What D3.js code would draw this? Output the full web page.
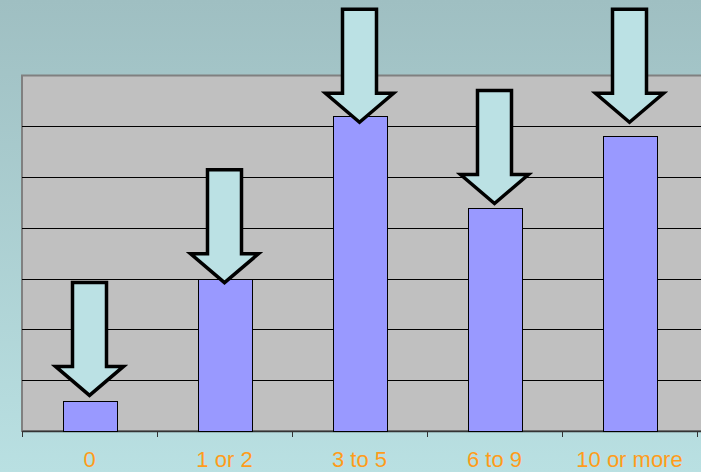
<!DOCTYPE html>
<html>
<head>
<meta charset="utf-8">
<script src="https://cdn.jsdelivr.net/npm/d3@7"></script>
<style>
  html, body { margin: 0; padding: 0; overflow: hidden; }
  svg { display: block; }
</style>
</head>
<body>
<svg width="701" height="472"></svg>
<script>
const categories = ['0', '1 or 2', '3 to 5', '6 to 9', '10 or more'];
const values = [3, 15, 31, 22, 29];
// where each arrow points (in value units)
const arrowTips = [3.5, 14.6, 30.4, 22.4, 30.4];
const gridTicks = [5, 10, 15, 20, 25, 30];

const svg = d3.select('svg');
const W = 701, H = 472;
const margin = { top: 75.5, right: 4, bottom: 41, left: 22 };

const defs = svg.append('defs');
const grad = defs.append('linearGradient')
    .attr('id', 'bg')
    .attr('x1', 0).attr('y1', 0).attr('x2', 0).attr('y2', 1);
grad.append('stop').attr('offset', '0%').attr('stop-color', '#9fbfc2');
grad.append('stop').attr('offset', '100%').attr('stop-color', '#b9e0e2');

svg.append('rect')
    .attr('width', W).attr('height', H)
    .attr('fill', 'url(#bg)');

const x = d3.scaleBand()
    .domain(categories)
    .range([margin.left, W - margin.right])
    .paddingInner(0.6)
    .paddingOuter(0.3);

const y = d3.scaleLinear()
    .domain([0, 35])
    .range([H - margin.bottom, margin.top]);

// plot area
svg.append('rect')
    .attr('x', margin.left).attr('y', y(35))
    .attr('width', W - margin.left + 2).attr('height', y(0) - y(35))
    .attr('fill', '#c0c0c0')
    .attr('stroke', '#808080')
    .attr('stroke-width', 2);

// gridlines
svg.append('g')
    .selectAll('line')
    .data(gridTicks)
    .join('line')
    .attr('x1', margin.left).attr('x2', W)
    .attr('y1', d => Math.round(y(d)) + 0.5)
    .attr('y2', d => Math.round(y(d)) + 0.5)
    .attr('stroke', '#000')
    .attr('stroke-width', 1);

// x axis line + tick marks at category boundaries
const xAxis = svg.append('g');
xAxis.append('line')
    .attr('x1', margin.left).attr('x2', W)
    .attr('y1', Math.round(y(0)) + 0.5).attr('y2', Math.round(y(0)) + 0.5)
    .attr('stroke', '#333').attr('stroke-width', 1.5);
xAxis.selectAll('.tk')
    .data(d3.range(categories.length + 1))
    .join('line')
    .attr('class', 'tk')
    .attr('x1', i => Math.round(margin.left + i * x.step()) + 0.5)
    .attr('x2', i => Math.round(margin.left + i * x.step()) + 0.5)
    .attr('y1', y(0)).attr('y2', y(0) + 6)
    .attr('stroke', '#333');

// bars
svg.append('g')
    .selectAll('rect')
    .data(values)
    .join('rect')
    .attr('x', (d, i) => Math.round(x(categories[i])) + 0.5)
    .attr('y', d => Math.round(y(d)) + 0.5)
    .attr('width', x.bandwidth())
    .attr('height', d => Math.round(y(0)) - Math.round(y(d)))
    .attr('fill', '#9999ff')
    .attr('stroke', '#000')
    .attr('stroke-width', 1);

// arrows
const shaftW = 34, headW = 68, headH = 29, len = 113;
const arrowPath = (cx, tip) => {
    const top = tip - len, neck = tip - headH;
    return `M${cx - shaftW / 2},${top} L${cx + shaftW / 2},${top} L${cx + shaftW / 2},${neck}
      L${cx + headW / 2},${neck} L${cx},${tip} L${cx - headW / 2},${neck}
      L${cx - shaftW / 2},${neck} Z`;
};
svg.append('g')
    .selectAll('path')
    .data(arrowTips)
    .join('path')
    .attr('d', (d, i) => arrowPath(x(categories[i]) + x.bandwidth() / 2, y(d)))
    .attr('fill', '#bbe1e4')
    .attr('stroke', '#000')
    .attr('stroke-width', 3.5)
    .attr('stroke-linejoin', 'miter');

// category labels
svg.append('g')
    .selectAll('text')
    .data(categories)
    .join('text')
    .attr('x', d => x(d) + x.bandwidth() / 2)
    .attr('y', 467)
    .attr('text-anchor', 'middle')
    .attr('font-family', 'Liberation Sans, Arial, sans-serif')
    .attr('font-size', 22)
    .attr('fill', '#ff9c1a')
    .text(d => d);
</script>
</body>
</html>
